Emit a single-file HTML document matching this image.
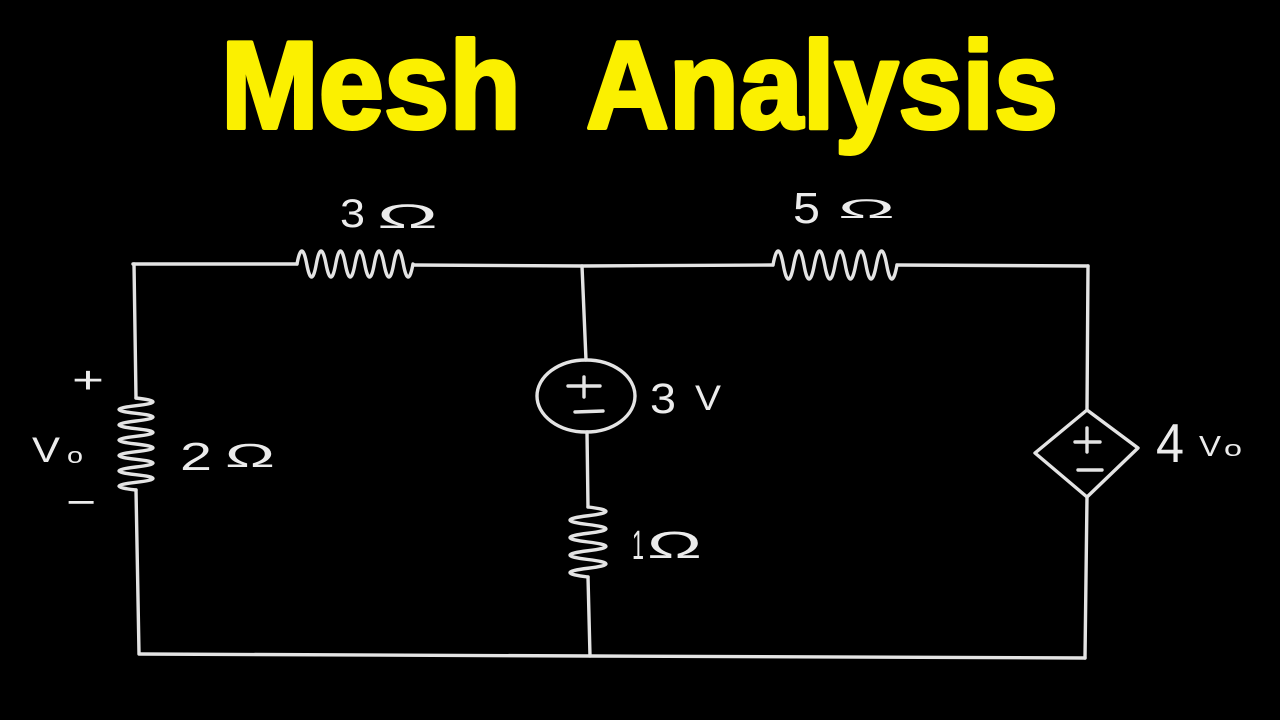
<!DOCTYPE html>
<html>
<head>
<meta charset="utf-8">
<style>
  html,body{margin:0;padding:0;background:#000;}
  body{width:1280px;height:720px;overflow:hidden;}
  svg{display:block;}
  .w{fill:none;stroke:#e4e4e4;stroke-width:3.4;stroke-linecap:round;stroke-linejoin:round;}
  .t{fill:#ececec;font-family:"Liberation Sans",sans-serif;}
  .title{fill:#fbf000;stroke:#fbf000;stroke-width:4;stroke-linejoin:round;font-family:"Liberation Sans",sans-serif;font-weight:bold;font-size:124px;}
</style>
</head>
<body>
<svg width="1280" height="720" viewBox="0 0 1280 720" xmlns="http://www.w3.org/2000/svg">
  <rect width="1280" height="720" fill="#000"/>

  <!-- Title -->
  <text class="title" x="221" y="128" textLength="300" lengthAdjust="spacingAndGlyphs">Mesh</text>
  <text class="title" x="586" y="128" textLength="472" lengthAdjust="spacingAndGlyphs">Analysis</text>

  <!-- Top wire -->
  <polyline class="w" points="133,264 297,264"/>
  <path class="w" d="M297,264 Q301.8,238 306.7,264 T316.3,264 T326,264 T335.7,264 T345.3,264 T355,264 T364.7,264 T374.3,264 T384,264 T393.7,264 T403.3,264 T413,264"/>
  <polyline class="w" points="413,265 582,266 773,265"/>
  <path class="w" d="M773,265 Q778.2,237 783.3,265 T793.7,265 T804,265 T814.3,265 T824.7,265 T835,265 T845.3,265 T855.7,265 T866,265 T876.3,265 T886.7,265 T897,265"/>
  <polyline class="w" points="897,265 1088,266"/>

  <!-- Left branch -->
  <polyline class="w" points="134,264 136,398"/>
  <path class="w" d="M136,398 Q170,401.8 136,405.7 T136,413.3 T136,421 T136,428.7 T136,436.3 T136,444 T136,451.7 T136,459.3 T136,467 T136,474.7 T136,482.3 T136,490"/>
  <polyline class="w" points="136,490 139,653"/>

  <!-- Bottom wire -->
  <polyline class="w" points="139,654 590,656 1085,658"/>

  <!-- Middle branch -->
  <polyline class="w" points="582,266 586,360"/>
  <ellipse class="w" cx="586" cy="396" rx="49" ry="36"/>
  <line class="w" x1="568" y1="386" x2="600" y2="386"/>
  <line class="w" x1="584" y1="377" x2="584" y2="397"/>
  <line class="w" x1="575" y1="412" x2="603" y2="411"/>
  <polyline class="w" points="587,432 588,507"/>
  <path class="w" d="M588,507 Q624,511.4 588,515.75 T588,524.5 T588,533.25 T588,542 T588,550.75 T588,559.5 T588,568.25 T588,577"/>
  <polyline class="w" points="588,577 590,656"/>

  <!-- Right branch -->
  <polyline class="w" points="1088,266 1087,410"/>
  <polygon class="w" points="1087,410 1138,448 1087,497 1035,453"/>
  <line class="w" x1="1075" y1="442" x2="1100" y2="442"/>
  <line class="w" x1="1087" y1="428" x2="1087" y2="452"/>
  <line class="w" x1="1078" y1="470" x2="1102" y2="470"/>
  <polyline class="w" points="1087,497 1085,658"/>

  <!-- Labels -->
  <text class="t" x="340" y="227" font-size="40" textLength="25" lengthAdjust="spacingAndGlyphs">3</text>
  <text class="t" x="377" y="228" font-size="34" textLength="61" lengthAdjust="spacingAndGlyphs">Ω</text>

  <text class="t" x="793" y="223" font-size="44" textLength="27" lengthAdjust="spacingAndGlyphs">5</text>
  <text class="t" x="838" y="218" font-size="27" textLength="57" lengthAdjust="spacingAndGlyphs">Ω</text>

  <text class="t" x="180" y="470" font-size="39" textLength="32" lengthAdjust="spacingAndGlyphs">2</text>
  <text class="t" x="225" y="467" font-size="33" textLength="50" lengthAdjust="spacingAndGlyphs">Ω</text>

  <text class="t" x="632" y="559" font-size="41" textLength="12" lengthAdjust="spacingAndGlyphs">1</text>
  <text class="t" x="647" y="558" font-size="38" textLength="55" lengthAdjust="spacingAndGlyphs">Ω</text>

  <text class="t" x="650" y="413" font-size="43" textLength="26" lengthAdjust="spacingAndGlyphs">3</text>
  <text class="t" x="695" y="410" font-size="35" textLength="26" lengthAdjust="spacingAndGlyphs">V</text>

  <text class="t" x="1156" y="462" font-size="55" textLength="28" lengthAdjust="spacingAndGlyphs">4</text>
  <text class="t" x="1199" y="456" font-size="29" textLength="22" lengthAdjust="spacingAndGlyphs">V</text>
  <text class="t" x="1224" y="456" font-size="22" textLength="18" lengthAdjust="spacingAndGlyphs">o</text>

  <text class="t" x="32" y="462" font-size="35" textLength="28" lengthAdjust="spacingAndGlyphs">V</text>
  <text class="t" x="67" y="463" font-size="22" textLength="16" lengthAdjust="spacingAndGlyphs">o</text>

  <text class="t" x="72" y="393" font-size="38" textLength="32" lengthAdjust="spacingAndGlyphs">+</text>
  <text class="t" x="66" y="515" font-size="38" textLength="30" lengthAdjust="spacingAndGlyphs">−</text>
</svg>
</body>
</html>
